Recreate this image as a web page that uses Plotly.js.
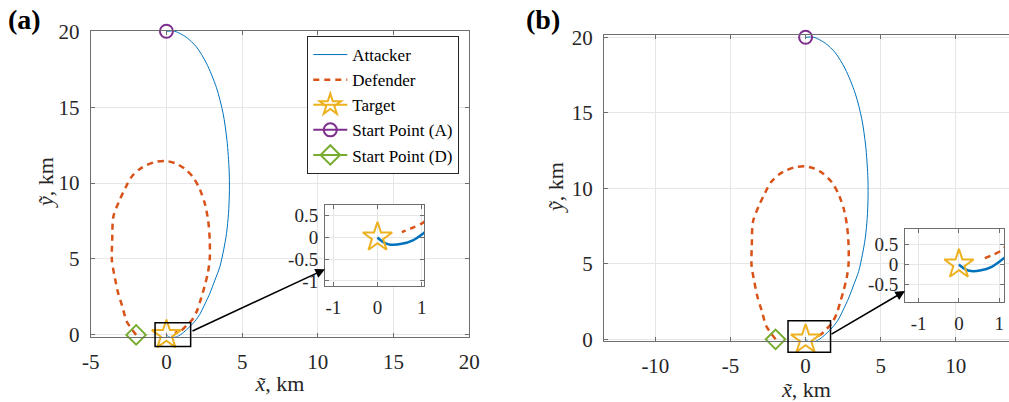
<!DOCTYPE html>
<html>
<head>
<meta charset="utf-8">
<script src="https://cdn.plot.ly/plotly-3.0.1.min.js"></script>
<style>html,body{margin:0;padding:0;background:#fff;}#chart{width:1009px;height:402px;}</style>
</head>
<body>
<div id="chart"></div>
<script>
// ---- data (km) ----
const attackerX = [0, 0.55, 1.32, 1.98, 2.64, 3.3, 3.74, 4.0, 4.14, 4.16, 4.1, 3.97, 3.78, 3.53, 3.2, 2.87, 2.55, 2.2, 1.9, 1.6, 1.32, 1.15, 1.05, 0.8, 0.55, 0.3, 0.15, 0.05, 0];
const attackerY = [20, 20.0, 19.6, 18.97, 17.9, 16.3, 14.6, 12.8, 10.86, 9.5, 8.0, 6.69, 5.6, 4.49, 3.6, 2.74, 2.05, 1.35, 0.92, 0.6, 0.33, 0.18, 0.1, -0.07, -0.15, -0.17, -0.12, -0.05, 0];
const defenderX = [-2, -2.3, -2.62, -2.91, -3.2, -3.42, -3.6, -3.58, -3.5, -3.09, -2.7, -2.31, -1.8, -1.32, -0.7, 0, 0.6, 1.2, 1.75, 2.2, 2.55, 2.76, 2.86, 2.86, 2.74, 2.52, 2.3, 2.05, 1.7, 1.32, 1.04, 0.8, 0.55];
const defenderY = [0, 0.4, 0.88, 1.86, 2.8, 3.84, 4.93, 6.2, 7.8, 8.88, 9.7, 10.4, 10.9, 11.18, 11.4, 11.45, 11.3, 10.95, 10.4, 9.6, 8.6, 7.5, 6.25, 5.0, 4.1, 3.2, 2.45, 1.65, 1.0, 0.62, 0.34, 0.22, 0.12];
const targetX = [0], targetY = [0];
const startAX = [0], startAY = [20];
const startDX = [-2], startDY = [0];
const zoomBoxA = {x: [-0.75, 1.6], y: [-0.77, 0.8]};
const zoomBoxB = {x: [-1.17, 1.66], y: [-0.86, 1.23]};
const mainXTicksA = [-5, 0, 5, 10, 15, 20], mainXTextA = ['-5', '0', '5', '10', '15', '20'];
const mainXTicksB = [-10, -5, 0, 5, 10], mainXTextB = ['-10', '-5', '0', '5', '10'];
const mainYTicks = [0, 5, 10, 15, 20], mainYText = ['0', '5', '10', '15', '20'];
const insetXTicks = [-1, 0, 1], insetXText = ['-1', '0', '1'];
const insetYTicks = [-1, -0.5, 0, 0.5], insetYText = ['-1', '-0.5', '0', '0.5'];
const legendNames = ['Attacker', 'Defender', 'Target', 'Start Point (A)', 'Start Point (D)'];
const xTitle = '<i>x\u0303</i>, km', yTitle = '<i>\u1EF9</i>, km';

// ---- styling ----
const W = 1009, H = 402;
const FONT = 'Liberation Serif';
const C = {blue: '#0072BD', orange: '#D95319', gold: '#EDB120', purple: '#7E2F8E', green: '#77AC30'};
const px = (a, b) => [a / W, b / W];
const py = (top, bot) => [1 - bot / H, 1 - top / H];

const ax = {
  a:  {dom: px(90.7, 469.3), range: [-5, 20]},
  ay: {dom: py(30.5, 336.7), range: [-0.12, 20.05]},
  b:  {dom: [604 / W, 1], range: [-13.42, 13.54]},
  by: {dom: py(35.3, 340.7), range: [-0.09, 20.13]},
  ia: {dom: px(325, 424.3), range: [-1.19, 1.06]},
  iay:{dom: py(205, 285.7), range: [-1.11, 0.74]},
  ib: {dom: px(905, 1004), range: [-1.34, 1.12]},
  iby:{dom: py(229.3, 301.7), range: [-0.94, 0.88]}
};
function toPaper(v, a) {
  return a.dom[0] + (v - a.range[0]) / (a.range[1] - a.range[0]) * (a.dom[1] - a.dom[0]);
}

function baseAxis(a, extra) {
  return Object.assign({
    domain: a.dom, range: a.range, autorange: false, fixedrange: true,
    showline: true, linecolor: '#6e6e6e', linewidth: 1, mirror: 'ticks',
    ticks: 'inside', ticklen: 4, tickcolor: '#6e6e6e', tickwidth: 1,
    showgrid: true, gridcolor: '#e6e6e6', gridwidth: 1, zeroline: false,
    tickfont: {family: FONT, size: 21, color: '#262626'}, tickmode: 'array'
  }, extra);
}
const insetFont = {family: FONT, size: 19, color: '#262626'};

const traces = [];
function lineTrace(xs, ys, xa, ya, color, width, dash, name, show) {
  return {x: xs, y: ys, xaxis: xa, yaxis: ya, type: 'scatter', mode: 'lines',
    line: {color: color, width: width, dash: dash, shape: 'spline', smoothing: 0.8}, name: name, showlegend: show, hoverinfo: 'skip'};
}
function markTrace(xs, ys, xa, ya, color, symbol, size, name, show) {
  return {x: xs, y: ys, xaxis: xa, yaxis: ya, type: 'scatter', mode: 'lines+markers', cliponaxis: false,
    line: {color: color, width: 2}, marker: {symbol: symbol, size: size, color: color, line: {color: color, width: 2}},
    name: name, showlegend: show, hoverinfo: 'skip'};
}
// panel (a)
traces.push(lineTrace(attackerX, attackerY, 'x', 'y', C.blue, 1, 'solid', legendNames[0], true));
traces.push(lineTrace(defenderX, defenderY, 'x', 'y', C.orange, 2.5, '6px,5px', legendNames[1], true));
traces.push(markTrace(targetX, targetY, 'x', 'y', C.gold, 'star-open', 22, legendNames[2], true));
traces.push(markTrace(startAX, startAY, 'x', 'y', C.purple, 'circle-open', 13, legendNames[3], true));
traces.push(markTrace(startDX, startDY, 'x', 'y', C.green, 'diamond-open', 15, legendNames[4], true));
// panel (b)
traces.push(lineTrace(attackerX, attackerY, 'x2', 'y2', C.blue, 1, 'solid', legendNames[0], false));
traces.push(lineTrace(defenderX, defenderY, 'x2', 'y2', C.orange, 2.5, '6px,5px', legendNames[1], false));
traces.push(markTrace(targetX, targetY, 'x2', 'y2', C.gold, 'star-open', 22, legendNames[2], false));
traces.push(markTrace(startAX, startAY, 'x2', 'y2', C.purple, 'circle-open', 13, legendNames[3], false));
traces.push(markTrace(startDX, startDY, 'x2', 'y2', C.green, 'diamond-open', 15, legendNames[4], false));
// insets (zoom near the target)
[['x3', 'y3'], ['x4', 'y4']].forEach(([xa, ya]) => {
  traces.push(lineTrace(attackerX, attackerY, xa, ya, C.blue, 2.5, 'solid', legendNames[0], false));
  traces.push(lineTrace(defenderX, defenderY, xa, ya, C.orange, 2.5, '6px,5px', legendNames[1], false));
  traces.push(markTrace(targetX, targetY, xa, ya, C.gold, 'star-open', 22, legendNames[2], false));
});

function boxShape(box, xa, ya) {
  return {type: 'rect', xref: 'paper', yref: 'paper',
    x0: toPaper(box.x[0], xa), x1: toPaper(box.x[1], xa),
    y0: toPaper(box.y[0], ya), y1: toPaper(box.y[1], ya),
    line: {color: '#000', width: 1.5}, fillcolor: 'rgba(0,0,0,0)', layer: 'above'};
}

const titleFont = {family: FONT, size: 22, color: '#262626'};
const layout = {
  width: W, height: H, margin: {l: 0, r: 0, t: 0, b: 0},
  paper_bgcolor: '#fff', plot_bgcolor: '#fff', font: {family: FONT, color: '#262626'},
  xaxis: baseAxis(ax.a, {anchor: 'y', tickvals: mainXTicksA, ticktext: mainXTextA, ticklabelstandoff: 6,
    title: {text: xTitle, font: titleFont, standoff: 2}}),
  yaxis: baseAxis(ax.ay, {anchor: 'x', tickvals: mainYTicks, ticktext: mainYText, ticklabelstandoff: 6}),
  xaxis2: baseAxis(ax.b, {anchor: 'y2', tickvals: mainXTicksB, ticktext: mainXTextB, ticklabelstandoff: 6,
    title: {text: xTitle, font: titleFont, standoff: 2}}),
  yaxis2: baseAxis(ax.by, {anchor: 'x2', mirror: false, tickvals: mainYTicks, ticktext: mainYText, ticklabelstandoff: 6}),
  xaxis3: baseAxis(ax.ia, {anchor: 'y3', tickvals: insetXTicks, ticktext: insetXText, ticklabelstandoff: 4, tickfont: insetFont}),
  yaxis3: baseAxis(ax.iay, {anchor: 'x3', tickvals: insetYTicks, ticktext: insetYText, ticklabelstandoff: 2, tickfont: insetFont}),
  xaxis4: baseAxis(ax.ib, {anchor: 'y4', tickvals: insetXTicks, ticktext: insetXText, ticklabelstandoff: 4, tickfont: insetFont}),
  yaxis4: baseAxis(ax.iby, {anchor: 'x4', tickvals: insetYTicks, ticktext: insetYText, ticklabelstandoff: 2, tickfont: insetFont}),
  showlegend: true,
  legend: {x: 459.3 / W, xanchor: 'right', y: 1 - 36 / H, yanchor: 'top',
    bgcolor: '#fff', bordercolor: '#262626', borderwidth: 1,
    font: {family: FONT, size: 17, color: '#000'}, itemwidth: 34, tracegroupgap: 0, itemclick: false},
  shapes: [boxShape(zoomBoxA, ax.a, ax.ay), boxShape(zoomBoxB, ax.b, ax.by)],
  annotations: [
    {xref: 'paper', yref: 'paper', x: 45 / W, y: 1 - 183 / H, xanchor: 'center', yanchor: 'middle', showarrow: false,
      textangle: -90, text: yTitle, font: titleFont},
    {xref: 'paper', yref: 'paper', x: 555 / W, y: 1 - 188 / H, xanchor: 'center', yanchor: 'middle', showarrow: false,
      textangle: -90, text: yTitle, font: titleFont},
    {xref: 'paper', yref: 'paper', x: 6 / W, y: 1 - 2 / H, xanchor: 'left', yanchor: 'top', showarrow: false,
      text: '<b>(a)</b>', font: {family: FONT, size: 28, color: '#000'}},
    {xref: 'paper', yref: 'paper', x: 524 / W, y: 1 - 2 / H, xanchor: 'left', yanchor: 'top', showarrow: false,
      text: '<b>(b)</b>', font: {family: FONT, size: 28, color: '#000'}},
    {xref: 'paper', yref: 'paper', x: 325 / W, y: 1 - 269.3 / H, ax: 191 - 325, ay: 331.7 - 269.3,
      showarrow: true, arrowhead: 2, arrowsize: 1.2, arrowwidth: 1.6, arrowcolor: '#000', text: ''},
    {xref: 'paper', yref: 'paper', x: 905 / W, y: 1 - 291 / H, ax: 830 - 905, ay: 335 - 291,
      showarrow: true, arrowhead: 2, arrowsize: 1.2, arrowwidth: 1.6, arrowcolor: '#000', text: ''}
  ]
};
Plotly.newPlot('chart', traces, layout, {staticPlot: true, displayModeBar: false});
</script>
</body>
</html>
